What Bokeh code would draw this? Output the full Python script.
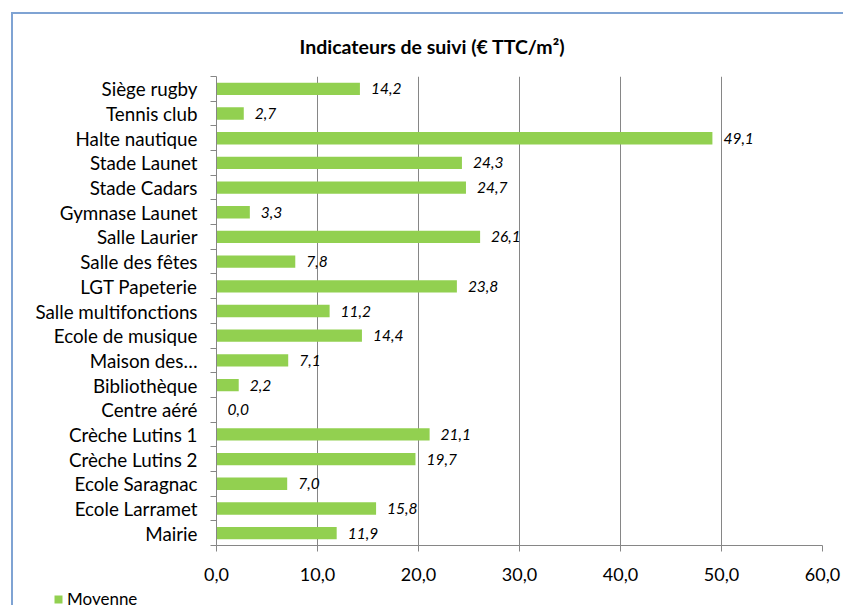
from bokeh.plotting import figure
from bokeh.models import (ColumnDataSource, FixedTicker, Legend, LegendItem,
                          Range1d)
from bokeh.layouts import column
from bokeh.core.properties import value
from bokeh.embed import file_html
from bokeh.resources import INLINE

# Data (top to bottom as shown)
categories = ["Siège rugby", "Tennis club", "Halte nautique", "Stade Launet",
              "Stade Cadars", "Gymnase Launet", "Salle Laurier", "Salle des fêtes",
              "LGT Papeterie", "Salle multifonctions", "Ecole de musique",
              "Maison des…", "Bibliothèque", "Centre aéré", "Crèche Lutins 1",
              "Crèche Lutins 2", "Ecole Saragnac", "Ecole Larramet", "Mairie"]
moyenne = [14.2, 2.7, 49.1, 24.3, 24.7, 3.3, 26.1, 7.8, 23.8, 11.2, 14.4,
           7.1, 2.2, 0.0, 21.1, 19.7, 7.0, 15.8, 11.9]
x_ticks = [0, 10, 20, 30, 40, 50, 60]
series_name = "Moyenne"
BAR_COLOR = "#92D050"

FONT = "Lato"
n = len(categories)
ypos = [n - 1 - i for i in range(n)]
labels = [f"{v:.1f}".replace(".", ",") for v in moyenne]

src = ColumnDataSource(dict(y=ypos, v=moyenne, lab=labels, cat=categories))

p = figure(frame_width=606, frame_height=469, output_backend="svg",
           toolbar_location=None,
           x_range=Range1d(0, 60), y_range=Range1d(-0.5, n - 0.5),
           min_border_left=203, min_border_right=21, min_border_top=62,
           min_border_bottom=48)
p.outline_line_color = None
p.background_fill_color = "white"
p.border_fill_color = "white"

bars = p.hbar(y="y", right="v", left=0, height=0.5, source=src,
              fill_color=BAR_COLOR, line_color=None)
p.text(x="v", y="y", text="lab", source=src, x_offset=11,
       text_font=value(FONT), text_font_style="italic", text_font_size="15.5px",
       text_baseline="middle", text_color="#000000")

# x axis
p.xaxis.ticker = FixedTicker(ticks=x_ticks)
p.xaxis.major_label_overrides = {t: f"{t:.1f}".replace(".", ",") for t in x_ticks}
p.xaxis.major_label_text_font = FONT
p.xaxis.major_label_text_font_size = "18px"
p.xaxis.major_label_text_color = "#000000"
p.xaxis.axis_line_color = "#868686"
p.xaxis.major_tick_line_color = "#868686"
p.xaxis.major_tick_out = 6
p.xaxis.major_tick_in = 0
p.xaxis.minor_tick_line_color = None
p.xaxis.major_label_standoff = 16

# y axis
p.yaxis.ticker = FixedTicker(ticks=ypos, minor_ticks=[k - 0.5 for k in range(n + 1)])
p.yaxis.major_label_overrides = {y: c for y, c in zip(ypos, categories)}
p.yaxis.major_label_text_font = FONT
p.yaxis.major_label_text_font_size = "18.8px"
p.yaxis.major_label_text_color = "#000000"
p.yaxis.axis_line_color = "#868686"
p.yaxis.major_tick_line_color = None
p.yaxis.minor_tick_line_color = "#868686"
p.yaxis.minor_tick_out = 6
p.yaxis.minor_tick_in = 0
p.yaxis.major_label_standoff = 13

p.xgrid.ticker = FixedTicker(ticks=x_ticks)
p.xgrid.grid_line_color = "#868686"
p.ygrid.grid_line_color = None

p.title.text = "Indicateurs de suivi (€ TTC/m²)"
p.title.text_font = FONT
p.title.text_font_size = "19.5px"
p.title.text_font_style = "bold"
p.title.text_color = "#000000"
p.title.align = "left"
p.title.offset = 83
p.title.standoff = 37

# Legend strip below the chart (its series renderer lies outside the strip's view)
p2 = figure(width=830, height=16, output_backend="svg", toolbar_location=None,
            x_range=Range1d(0, 830), y_range=Range1d(100, 116),
            min_border=0)
try:
    p2.frame_align = False
except Exception:
    pass
p2.axis.visible = False
p2.grid.visible = False
p2.outline_line_color = None
p2.background_fill_color = "white"
p2.border_fill_color = "white"
leg_r = p2.hbar(y="y", right="v", left=0, height=0.5, source=src,
                fill_color=BAR_COLOR, line_color=None)
legend = Legend(items=[LegendItem(label=series_name, renderers=[leg_r], index=0)],
                location=(40, 0), orientation="horizontal",
                label_text_font=FONT, label_text_font_size="17px",
                label_text_color="#000000",
                glyph_width=10, glyph_height=10, label_standoff=4,
                label_height=16, padding=0, margin=0, border_line_color=None,
                background_fill_alpha=0)
p2.add_layout(legend, "center")

layout = column(p, p2, spacing=0)
layout.styles = {"border-top": "2px solid #7FA3D3", "border-left": "2px solid #7FA3D3",
                 "margin-left": "11px", "margin-top": "12px"}

open("out.html", "w").write(file_html(layout, INLINE))
